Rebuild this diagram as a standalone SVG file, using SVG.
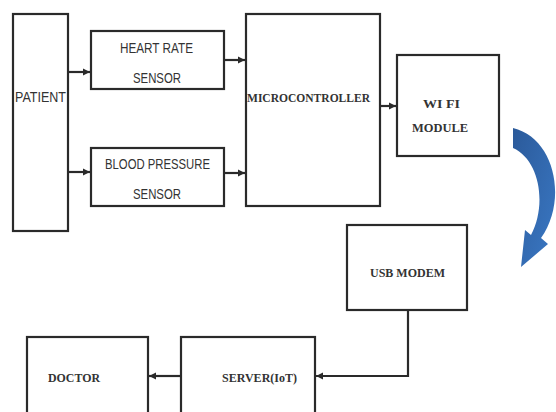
<svg xmlns="http://www.w3.org/2000/svg" width="556" height="412" viewBox="0 0 556 412">
<defs>
<marker id="ah" markerWidth="8" markerHeight="8" refX="7" refY="4" orient="auto" markerUnits="userSpaceOnUse">
<path d="M0,0.5 L7,4 L0,7.5 z" fill="#2a2a2a"/>
</marker>
<linearGradient id="bg" x1="0" y1="0" x2="1" y2="1">
<stop offset="0" stop-color="#2b5a9a"/>
<stop offset="1" stop-color="#3a78c4"/>
</linearGradient>
</defs>
<style>
.box{fill:#fff;stroke:#2a2a2a;stroke-width:2.2}
.s{font-family:"Liberation Sans",Arial,sans-serif;font-size:14px;fill:#333}
.t{font-family:"Liberation Serif","Times New Roman",serif;font-weight:bold;font-size:13.5px;fill:#333}
.c{fill:none;stroke:#2a2a2a;stroke-width:2.2}
</style>
<rect width="556" height="412" fill="#fff"/>
<g id="patient"><rect class="box" x="13" y="14" width="55" height="217"/>
<text class="s" x="15" y="102" textLength="51" lengthAdjust="spacingAndGlyphs">PATIENT</text></g>
<g id="heart"><rect class="box" x="91" y="31" width="133" height="58"/>
<text class="s" x="120" y="53" textLength="73" lengthAdjust="spacingAndGlyphs">HEART RATE</text>
<text class="s" x="133" y="83" textLength="48" lengthAdjust="spacingAndGlyphs">SENSOR</text></g>
<g id="bp"><rect class="box" x="91" y="148" width="133" height="58"/>
<text class="s" x="105" y="169" textLength="105" lengthAdjust="spacingAndGlyphs">BLOOD PRESSURE</text>
<text class="s" x="133" y="199" textLength="48" lengthAdjust="spacingAndGlyphs">SENSOR</text></g>
<g id="mcu"><rect class="box" x="246" y="14" width="134" height="192"/>
<text class="t" x="247" y="102" textLength="123" lengthAdjust="spacingAndGlyphs">MICROCONTROLLER</text></g>
<g id="wifi"><rect class="box" x="397" y="55" width="102" height="101"/>
<text class="t" x="423" y="108" textLength="37" lengthAdjust="spacingAndGlyphs">WI FI</text>
<text class="t" x="412" y="132" textLength="56" lengthAdjust="spacingAndGlyphs">MODULE</text></g>
<g id="usb"><rect class="box" x="347" y="225" width="120" height="85"/>
<text class="t" x="370" y="277" textLength="75" lengthAdjust="spacingAndGlyphs">USB MODEM</text></g>
<g id="server"><rect class="box" x="181" y="337" width="134" height="90"/>
<text class="t" x="222" y="382" textLength="75" lengthAdjust="spacingAndGlyphs">SERVER(IoT)</text></g>
<g id="doctor"><rect class="box" x="27" y="337" width="121" height="90"/>
<text class="t" x="48" y="382" textLength="52" lengthAdjust="spacingAndGlyphs">DOCTOR</text></g>
<g id="connectors">
<line class="c" x1="68" y1="72" x2="90" y2="72" marker-end="url(#ah)"/>
<line class="c" x1="68" y1="172" x2="90" y2="172" marker-end="url(#ah)"/>
<line class="c" x1="224" y1="60" x2="245" y2="60" marker-end="url(#ah)"/>
<line class="c" x1="224" y1="173" x2="245" y2="173" marker-end="url(#ah)"/>
<line class="c" x1="380" y1="106" x2="396" y2="106" marker-end="url(#ah)"/>
<polyline class="c" points="408,310 408,376 316,376" marker-end="url(#ah)"/>
<line class="c" x1="181" y1="376" x2="149" y2="376" marker-end="url(#ah)"/>
<path d="M513,128 C555,138 568,200 541,238 L548,244 L521,267 L525,230 L531,235 C547,205 540,160 513,148 Z" fill="url(#bg)"/>
</g>
</svg>
